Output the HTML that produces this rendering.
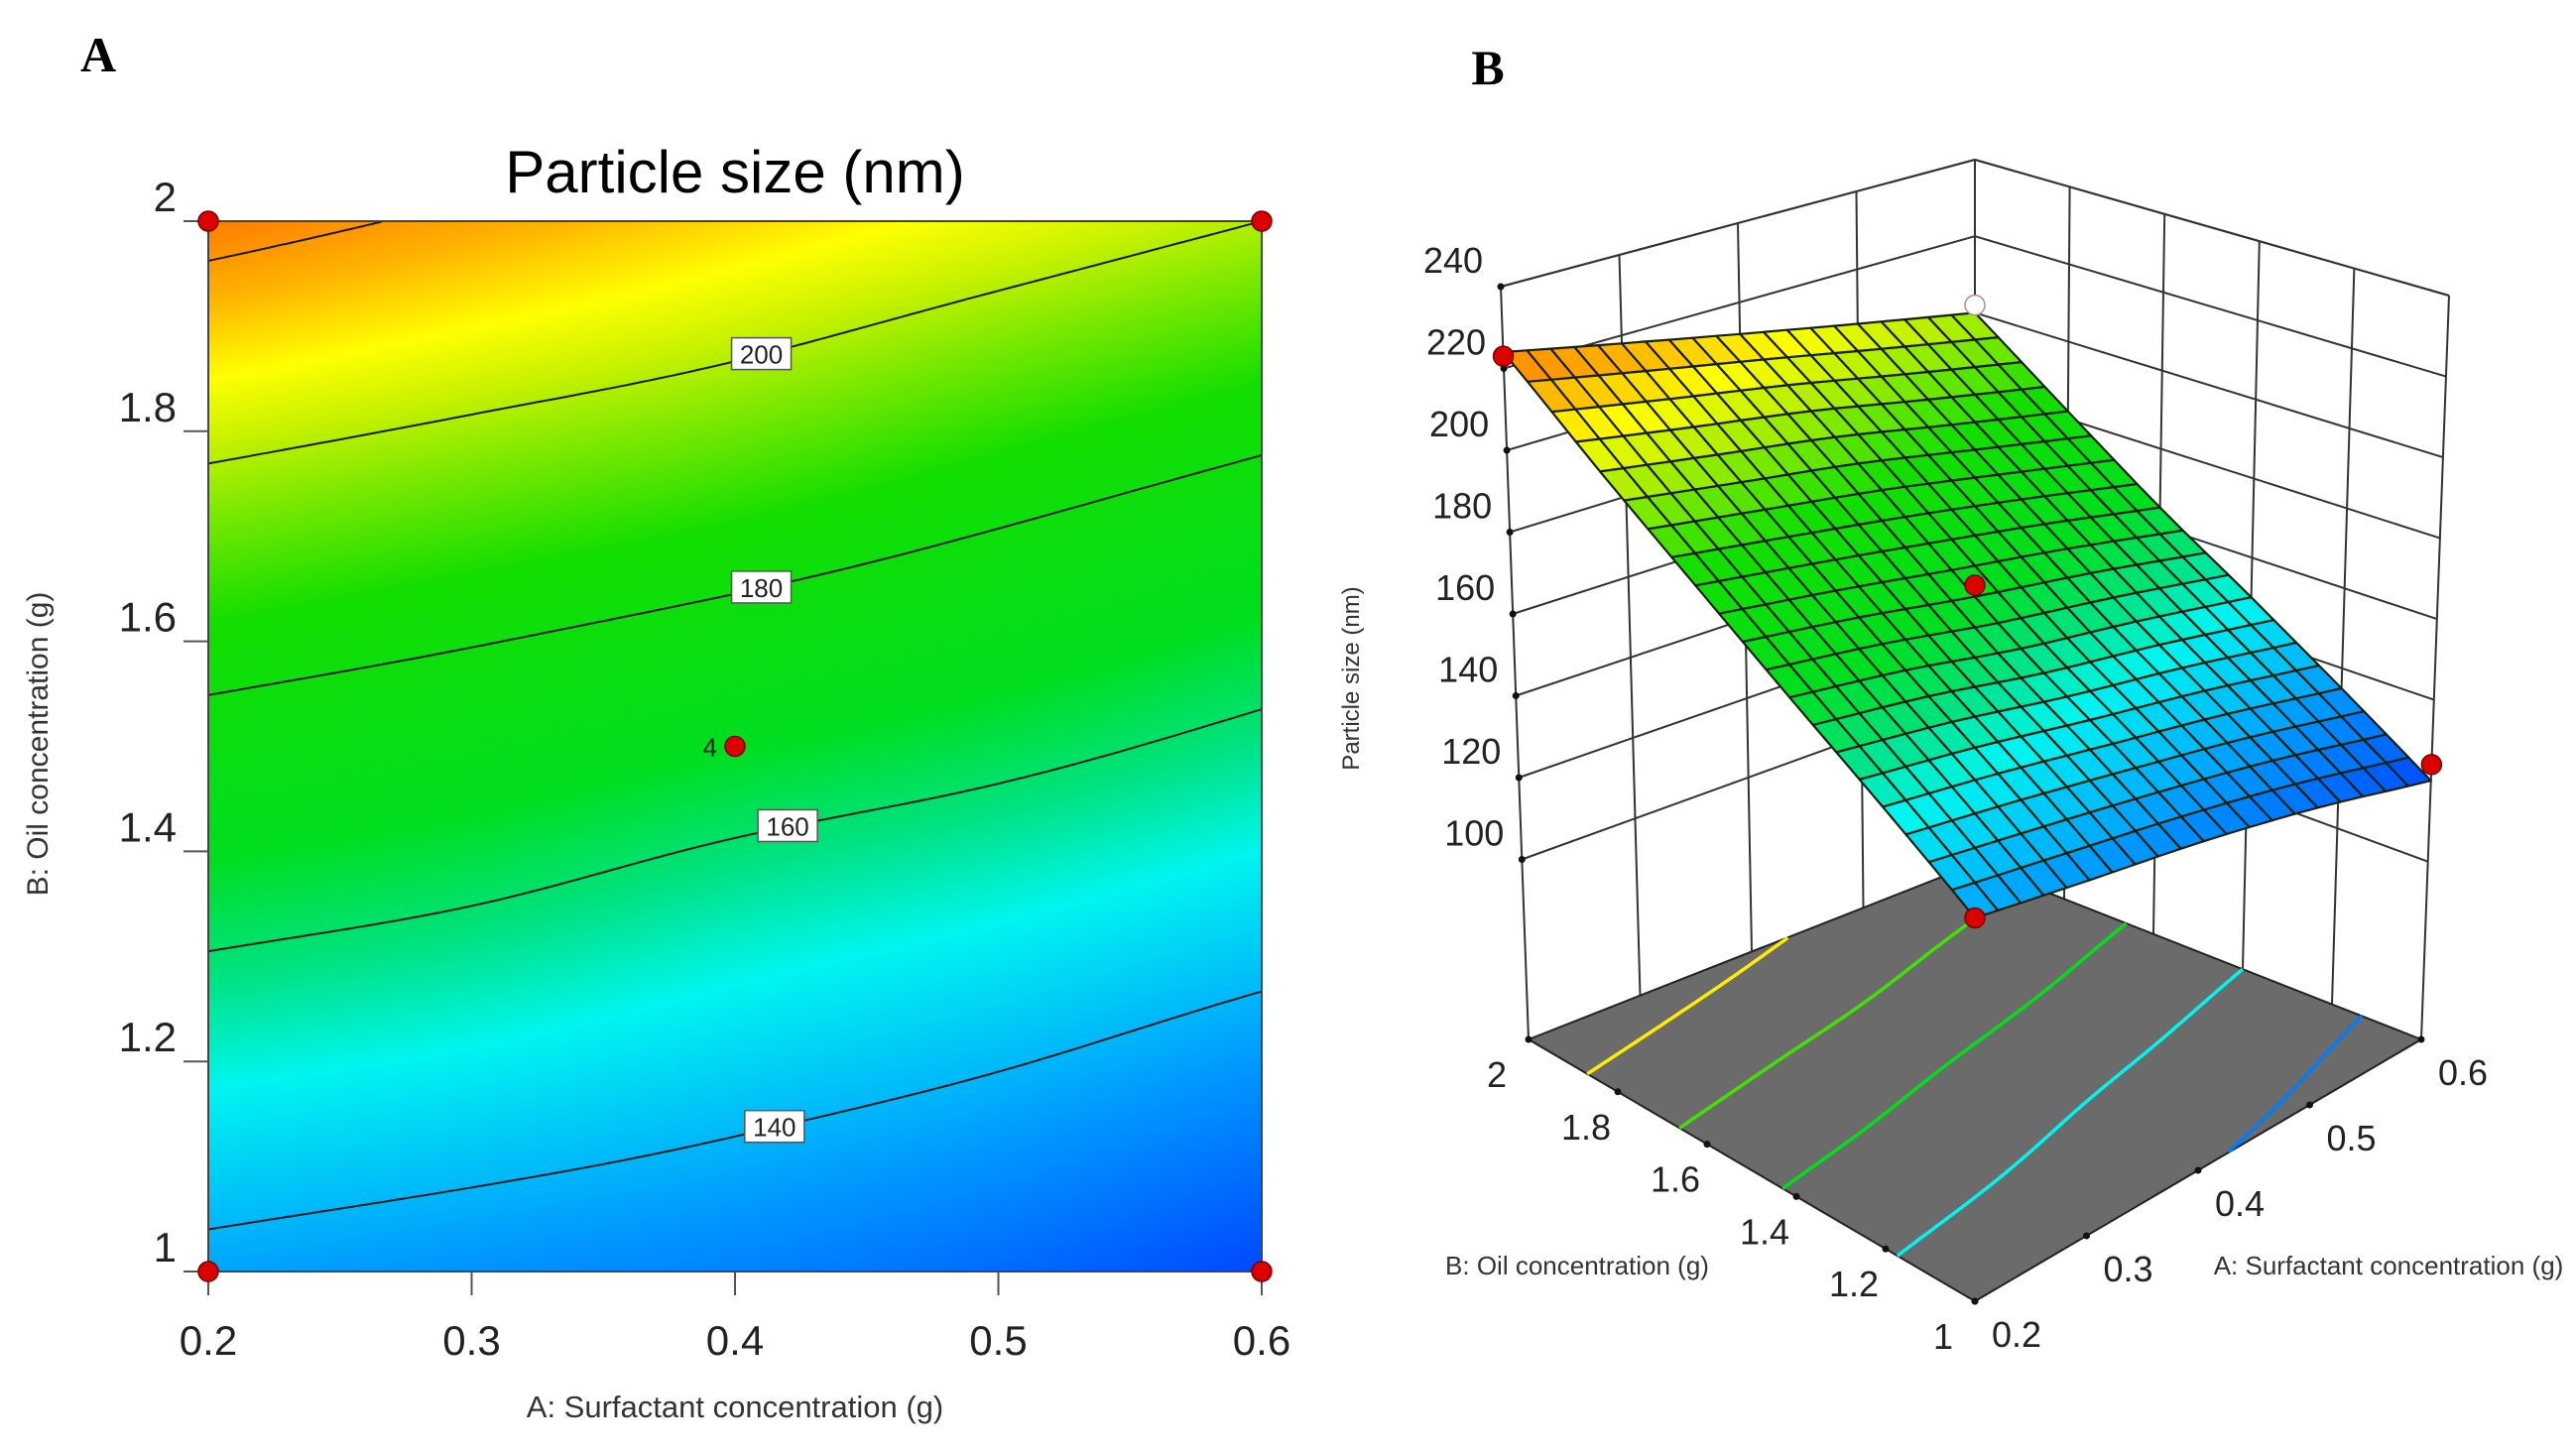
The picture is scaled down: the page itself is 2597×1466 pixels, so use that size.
<!DOCTYPE html>
<html><head><meta charset="utf-8">
<style>
html,body{margin:0;padding:0;background:#fff;}
#wrap{position:relative;width:2597px;height:1466px;overflow:hidden;font-family:"Liberation Sans",sans-serif;}
#heat{position:absolute;left:210px;top:223px;}
#svg{position:absolute;left:0;top:0;}
</style></head>
<body>
<div id="wrap">
<canvas id="heat" width="1062" height="1059"></canvas>
<svg id="svg" width="2597" height="1466" xmlns="http://www.w3.org/2000/svg">
<text x="99" y="72" font-family="Liberation Serif" font-weight="bold" font-size="50" text-anchor="middle">A</text>
<text x="1500" y="85" font-family="Liberation Serif" font-weight="bold" font-size="50" text-anchor="middle">B</text>
<text x="741" y="194" font-size="60" text-anchor="middle">Particle size (nm)</text>
<text x="741" y="1429" font-size="31" fill="#333" text-anchor="middle">A: Surfactant concentration (g)</text>
<text x="0" y="0" font-size="30" fill="#333" text-anchor="middle" transform="translate(48,750) rotate(-90)">B: Oil concentration (g)</text>
<g id="gA"></g>
<g id="gB"></g>
<text x="0" y="0" font-size="24" fill="#333" text-anchor="middle" transform="translate(1370,684) rotate(-90)">Particle size (nm)</text>
<text x="1590" y="1285" font-size="26" fill="#333" text-anchor="middle">B: Oil concentration (g)</text>
<text x="2408" y="1285" font-size="26" fill="#333" text-anchor="middle">A: Surfactant concentration (g)</text>
</svg>
</div>
<script>
// ---- data ----
const gridA = [0.2, 0.3, 0.4, 0.5, 0.6];
const gridB = [1.0, 1.2, 1.4, 1.6, 1.8, 2.0];
const zA02 = [137, 152, 167.5, 184.5, 203, 224];
const zA03 = [134, 149, 164, 180.5, 198.5, 218];
const zA04 = [131, 145, 159, 176, 194, 212];
const zA05 = [126.5, 140.7, 155, 171, 188, 206];
const zA06 = [120, 135, 150, 165, 182, 200];
const designA = [0.2, 0.2, 0.6, 0.6, 0.4];
const designB = [1.0, 2.0, 1.0, 2.0, 1.5];
const designY = [137, 223, 124, 202, 170];
const xTicks = [0.2, 0.3, 0.4, 0.5, 0.6];
const yTicks = [1, 1.2, 1.4, 1.6, 1.8, 2];
const yTickLabels = ["1", "1.2", "1.4", "1.6", "1.8", "2"];
const contourLevels = [140, 160, 180, 200, 220];
const labelLevels = [140, 160, 180, 200];
const labelAt = [0.415, 0.42, 0.41, 0.41];
const zTicks = [100, 120, 140, 160, 180, 200, 220, 240];
const floorLevels = [130, 150, 170, 190, 210];

const zRows = [zA02, zA03, zA04, zA05, zA06];
const NS = "http://www.w3.org/2000/svg";
function cr(p0, p1, p2, p3, t) {
  return 0.5 * ((2 * p1) + (-p0 + p2) * t + (2 * p0 - 5 * p1 + 4 * p2 - p3) * t * t + (-p0 + 3 * p1 - 3 * p2 + p3) * t * t * t);
}
function interp1(arr, x0, dx, x) {
  const n = arr.length;
  let i = Math.min(n - 2, Math.max(0, Math.floor((x - x0) / dx)));
  const t = (x - x0) / dx - i;
  const g = k => k < 0 ? 2 * arr[0] - arr[1] : (k >= n ? 2 * arr[n - 1] - arr[n - 2] : arr[k]);
  return cr(g(i - 1), g(i), g(i + 1), g(i + 2), t);
}
function zf(a, b) {
  const col = zRows.map(r => interp1(r, gridB[0], gridB[1] - gridB[0], b));
  return interp1(col, gridA[0], gridA[1] - gridA[0], a);
}
const stops = [[120,[0,72,255]],[135,[0,152,255]],[150,[0,245,240]],[158,[0,226,128]],[167,[0,222,32]],[186,[20,222,0]],[195,[120,232,0]],[202,[200,242,0]],[208,[255,255,0]],[216,[255,180,0]],[226,[255,110,0]]];
function cmap(z) {
  if (z <= stops[0][0]) return stops[0][1];
  for (let k = 0; k < stops.length - 1; k++) {
    if (z <= stops[k + 1][0]) {
      const t = (z - stops[k][0]) / (stops[k + 1][0] - stops[k][0]);
      return stops[k][1].map((c, m) => Math.round(c + (stops[k + 1][1][m] - c) * t));
    }
  }
  return stops[stops.length - 1][1];
}
function rgb(c) { return "rgb(" + c[0] + "," + c[1] + "," + c[2] + ")"; }
function solveB(a, lev) {
  let lo = 1, hi = 2;
  if (zf(a, lo) > lev || zf(a, hi) < lev) return null;
  for (let k = 0; k < 40; k++) { const m = (lo + hi) / 2; if (zf(a, m) < lev) lo = m; else hi = m; }
  return (lo + hi) / 2;
}
function mk(tag, attrs, parent) { const e = document.createElementNS(NS, tag); for (const k in attrs) e.setAttribute(k, attrs[k]); parent.appendChild(e); return e; }

// ---- Panel A ----
const PL = 210, PR = 1272, PT = 223, PB = 1282;
const X = a => PL + (a - 0.2) / 0.4 * (PR - PL);
const Y = b => PB - (b - 1) * (PB - PT);
(function () {
  const cv = document.getElementById('heat'); const ctx = cv.getContext('2d');
  const W = cv.width, H = cv.height; const img = ctx.createImageData(W, H);
  for (let py = 0; py < H; py++) {
    const b = 2 - py / (H - 1);
    const col = zRows.map(r => interp1(r, gridB[0], gridB[1] - gridB[0], b));
    for (let px = 0; px < W; px++) {
      const a = 0.2 + 0.4 * px / (W - 1);
      const c = cmap(interp1(col, gridA[0], gridA[1] - gridA[0], a)); const o = (py * W + px) * 4;
      img.data[o] = c[0]; img.data[o + 1] = c[1]; img.data[o + 2] = c[2]; img.data[o + 3] = 255;
    }
  }
  ctx.putImageData(img, 0, 0);
})();
const gA = document.getElementById('gA');
contourLevels.forEach(lev => {
  let pts = [];
  for (let k = 0; k <= 200; k++) { const a = 0.2 + 0.4 * k / 200; const b = solveB(a, lev); if (b !== null) pts.push(X(a).toFixed(1) + "," + Y(b).toFixed(1)); }
  const p = mk('polyline', { points: pts.join(" "), fill: "none", stroke: "#1a1a1a", "stroke-width": 2 }, gA);
  
  
});
labelLevels.forEach((lev, i) => {
  const a = labelAt[i]; const b = solveB(a, lev); const cx = X(a), cy = Y(b);
  const r = mk('rect', { x: cx - 30, y: cy - 17, width: 60, height: 32, fill: "#fff", stroke: "#555", "stroke-width": 1.5 }, gA);
  
  
  const t = mk('text', { x: cx, y: cy + 9, "font-size": 26, "text-anchor": "middle", fill: "#222" }, gA); t.textContent = lev;
  
  
});
const frame = mk('rect', { x: PL, y: PT, width: PR - PL, height: PB - PT, fill: "none", stroke: "#444", "stroke-width": 2 }, gA);


xTicks.forEach(v => {
  const l = mk('line', { x1: X(v), x2: X(v), y1: PB, y2: PB + 24, stroke: "#555", "stroke-width": 2 }, gA);
  
  
  const t = mk('text', { x: X(v), y: PB + 84, "font-size": 42, "text-anchor": "middle", fill: "#222" }, gA); t.textContent = v.toFixed(1);
  
  
});
yTicks.forEach((v, i) => {
  const l = mk('line', { x1: PL - 25, x2: PL, y1: Y(v), y2: Y(v), stroke: "#555", "stroke-width": 2 }, gA);
  
  
  const t = mk('text', { x: 178, y: Y(v) - 10, "font-size": 42, "text-anchor": "end", fill: "#222" }, gA); t.textContent = yTickLabels[i];
  
  
});
designA.forEach((a, i) => {
  const c = mk('circle', { cx: X(a), cy: Y(designB[i]), r: 10, fill: "#d00", stroke: "#700", "stroke-width": 1.5 }, gA);
  
  
});
const four = mk('text', { x: X(0.4) - 18, y: Y(1.5) + 10, "font-size": 26, "text-anchor": "end", fill: "#222" }, gA); four.textContent = "4";



// ---- Panel B (3D) ----
const ZF = 56, ZT = 240;
const cF = { f: [1991, 1312], t: [1991, 434] }, cL = { f: [1541, 1048], t: [1513, 289] }, cK = { f: [1991, 871], t: [1991, 161] }, cR = { f: [2441, 1048], t: [2469, 298] };
function P(a, b, z) {
  const u = (a - 0.2) / 0.4, v = (b - 1), w = (z - ZF) / (ZT - ZF);
  const pt = c => [c.f[0] + (c.t[0] - c.f[0]) * w, c.f[1] + (c.t[1] - c.f[1]) * w];
  const F = pt(cF), L = pt(cL), K = pt(cK), R = pt(cR);
  const x = F[0] * (1 - u) * (1 - v) + R[0] * u * (1 - v) + L[0] * (1 - u) * v + K[0] * u * v;
  const y = F[1] * (1 - u) * (1 - v) + R[1] * u * (1 - v) + L[1] * (1 - u) * v + K[1] * u * v;
  return [x, y];
}
const gB = document.getElementById('gB');
function line3(p1, p2, name, col, w) {
  const l = mk('line', { x1: p1[0], y1: p1[1], x2: p2[0], y2: p2[1], stroke: col || "#333", "stroke-width": w || 2 }, gB);
  
  
}
zTicks.forEach(z => {
  line3(P(0.2, 2, z), P(0.6, 2, z), 'left-wall-gridline');
  line3(P(0.6, 2, z), P(0.6, 1, z), 'right-wall-gridline');
});
[0.3, 0.4, 0.5].forEach(a => line3(P(a, 2, ZF), P(a, 2, ZT), 'left-wall-vertical'));
[1.2, 1.4, 1.6, 1.8].forEach(b => line3(P(0.6, b, ZF), P(0.6, b, ZT), 'right-wall-vertical'));
line3(P(0.2, 2, ZF), P(0.2, 2, ZT), 'z-axis-line');
line3(P(0.6, 2, ZF), P(0.6, 2, ZT), 'back-edge');
line3(P(0.6, 1, ZF), P(0.6, 1, ZT), 'right-edge');
line3(P(0.2, 2, ZT), P(0.6, 2, ZT), 'top-edge-left');
line3(P(0.6, 2, ZT), P(0.6, 1, ZT), 'top-edge-right');
zTicks.forEach(z => {
  const p = P(0.2, 2, z);
  const d = mk('circle', { cx: p[0], cy: p[1], r: 3.5, fill: "#111" }, gB);
  
  
  const t = mk('text', { x: p[0] - 48, y: p[1] - 14, "font-size": 36, "text-anchor": "middle", fill: "#222" }, gB); t.textContent = z;
  
  
});
const fl = [P(0.2, 1, ZF), P(0.6, 1, ZF), P(0.6, 2, ZF), P(0.2, 2, ZF)];
const floor = mk('polygon', { points: fl.map(p => p.join(",")).join(" "), fill: "#6b6b6b", stroke: "#222", "stroke-width": 2 }, gB);


floorLevels.forEach(lev => {
  let pts = [];
  for (let k = 0; k <= 100; k++) { const a = 0.2 + 0.4 * k / 100; const b = solveB(a, lev); if (b !== null) pts.push(P(a, b, ZF).map(v => v.toFixed(1)).join(",")); }
  const p = mk('polyline', { points: pts.join(" "), fill: "none", stroke: rgb(cmap(lev)), "stroke-width": 3.5 }, gB);
  
  
});
yTicks.forEach((b, i) => {
  const p = P(0.2, b, ZF);
  const d = mk('circle', { cx: p[0], cy: p[1], r: 3.5, fill: "#111" }, gB);
  
  
  const t = mk('text', { x: p[0] - 32, y: p[1] + 48, "font-size": 36, "text-anchor": "middle", fill: "#222" }, gB); t.textContent = yTickLabels[i];
  
  
});
xTicks.forEach(a => {
  const p = P(a, 1, ZF);
  const d = mk('circle', { cx: p[0], cy: p[1], r: 3.5, fill: "#111" }, gB);
  
  
  const t = mk('text', { x: p[0] + 42, y: p[1] + 46, "font-size": 36, "text-anchor": "middle", fill: "#222" }, gB); t.textContent = a.toFixed(1);
  
  
});
const N = 20; let quads = [];
for (let i = 0; i < N; i++) for (let j = 0; j < N; j++) quads.push([i, j]);
quads.sort((q1, q2) => (q2[0] + q2[1]) - (q1[0] + q1[1]));
const surf = mk('g', {}, gB);


quads.forEach(([i, j]) => {
  const a0 = 0.2 + 0.4 * i / N, a1 = 0.2 + 0.4 * (i + 1) / N, b0 = 1 + j / N, b1 = 1 + (j + 1) / N;
  const cs = [[a0, b0], [a1, b0], [a1, b1], [a0, b1]];
  const pts = cs.map(c => P(c[0], c[1], zf(c[0], c[1])).map(v => v.toFixed(1)).join(",")).join(" ");
  const zc = zf((a0 + a1) / 2, (b0 + b1) / 2);
  const q = mk('polygon', { points: pts, fill: rgb(cmap(zc)), stroke: "#16200c", "stroke-width": 2.2, "stroke-linejoin": "round" }, surf);
  
  
});
designA.forEach((a, i) => {
  const p = P(a, designB[i], designY[i]);
  const hidden = (a === 0.6 && designB[i] === 2);
  const c = mk('circle', { cx: p[0], cy: p[1], r: 10, fill: hidden ? "#fff" : "#d00", stroke: hidden ? "#b88" : "#700", "stroke-width": 1.5 }, gB);
  
  
});
</script>
</body></html>
